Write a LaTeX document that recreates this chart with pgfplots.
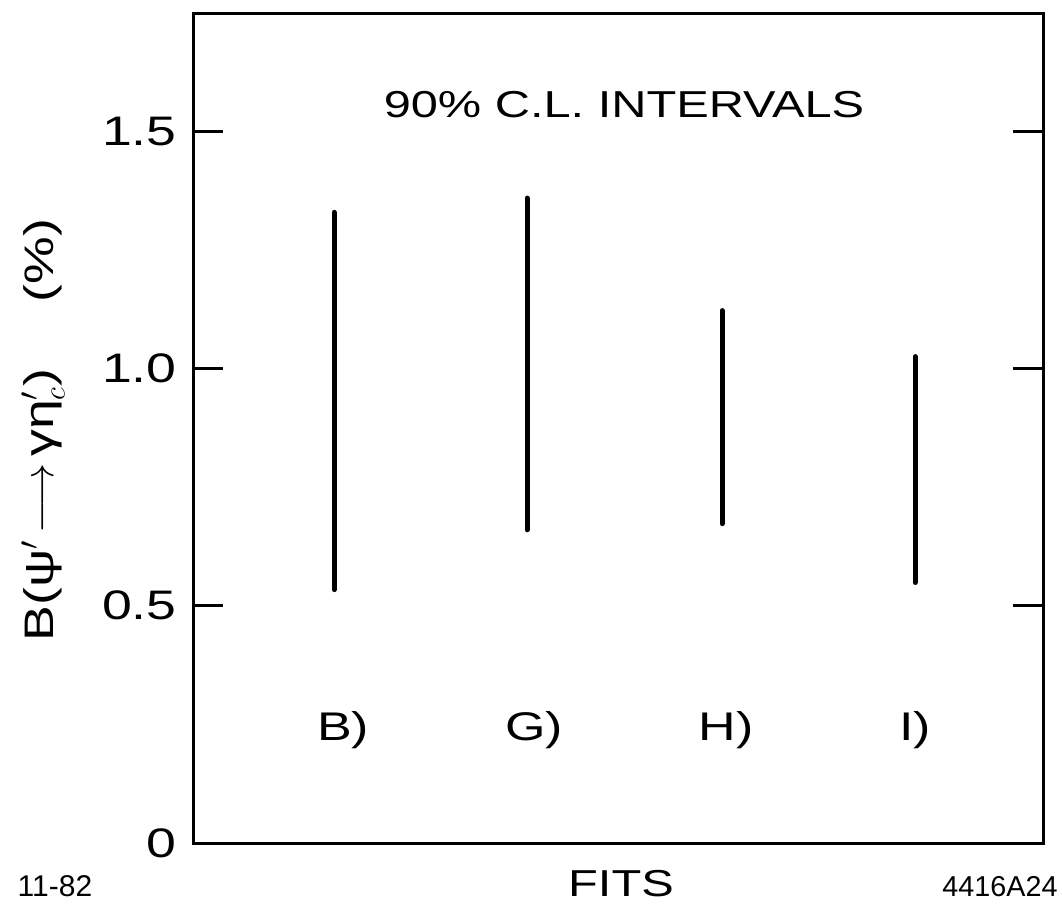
\documentclass[border=0pt]{standalone}
\usepackage{fontspec}
\setmainfont{Liberation Sans}[FakeStretch=1.3]
\newfontfamily\plainsf{Liberation Sans}
\usepackage{pgfplots}
\pgfplotsset{compat=1.18}
\begin{document}
\begin{tikzpicture}
\useasboundingbox (0pt,0pt) rectangle (424.8pt,361.6pt);
\begin{axis}[
  at={(77.2pt,24.4pt)}, anchor=south west,
  scale only axis, width=340pt, height=331.6pt,
  xmin=193, xmax=1043, ymin=0, ymax=1.747,
  xtick=\empty,
  ytick={0,0.5,1,1.5}, yticklabels={0,0.5,1.0,1.5},
  tick align=inside, ytick pos=both, yticklabel pos=left,
  major tick length=12pt,
  every tick/.style={black, line width=1.2pt},
  axis line style={line width=1.2pt},
  yticklabel style={font=\fontsize{16.5}{16.5}\selectfont, xshift=-3pt},
  clip=false,
]
\addplot[line width=2pt, line cap=round] coordinates {(334,0.534) (334,1.329)};
\addplot[line width=2pt, line cap=round] coordinates {(527,0.660) (527,1.359)};
\addplot[line width=2pt, line cap=round] coordinates {(722,0.673) (722,1.122)};
\addplot[line width=2pt, line cap=round] coordinates {(915,0.549) (915,1.025)};
\node at (axis cs:624,1.557) {\fontsize{15}{15}\selectfont 90\% C.L. INTERVALS};
\node at (axis cs:343,0.238) {\fontsize{16}{16}\selectfont B)};
\node at (axis cs:534,0.238) {\fontsize{16}{16}\selectfont G)};
\node at (axis cs:726,0.238) {\fontsize{16}{16}\selectfont H)};
\node at (axis cs:915,0.238) {\fontsize{16}{16}\selectfont I)};
\node[rotate=90] at (axis cs:43,0.87) {\fontsize{16.5}{16.5}\selectfont B(ψ$^{\prime}$\,$\longrightarrow$\,γη$^{\prime}_{c}$)\hspace{1.6em}(\%)};
\end{axis}
\node[inner sep=1pt] at (55*0.4pt,7pt) {\plainsf\fontsize{12}{12}\selectfont 11-82};
\node[inner sep=1pt] at (621*0.4pt,8pt) {\fontsize{15}{15}\selectfont FITS};
\node[inner sep=1pt] at (1000*0.4pt,7pt) {\plainsf\fontsize{11.5}{11.5}\selectfont 4416A24};
\end{tikzpicture}
\end{document}
